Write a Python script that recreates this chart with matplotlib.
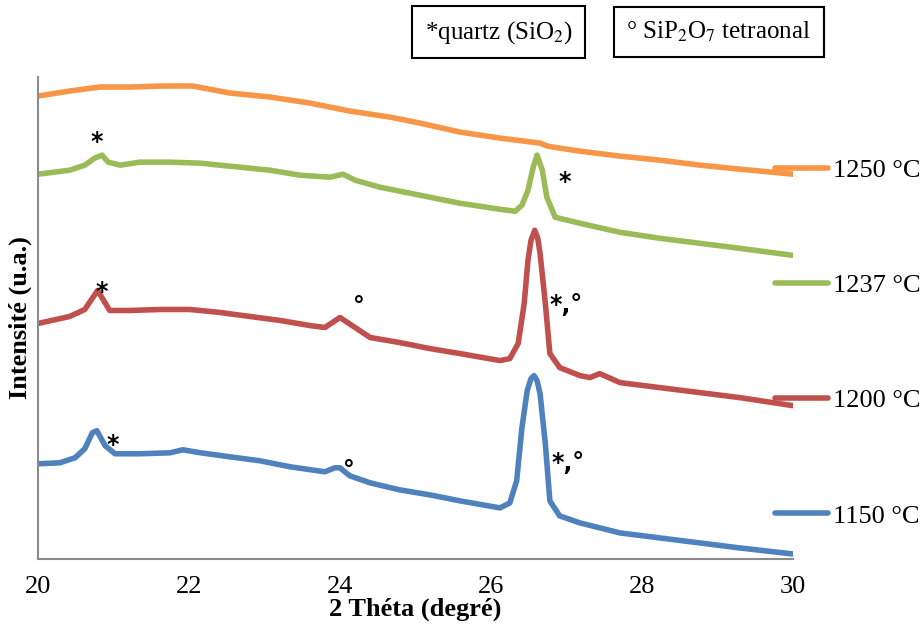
import matplotlib
matplotlib.use("Agg")
import matplotlib.pyplot as plt
from matplotlib.lines import Line2D

plt.rcParams['font.family'] = ['Liberation Serif', 'DejaVu Serif']
plt.rcParams['mathtext.fontset'] = 'stix'

# 2 theta (degree) and intensity (a.u., curves already stacked)
x_1250 = [20.00, 20.42, 20.82, 21.22, 21.66, 22.05, 22.54, 23.07, 23.60, 24.13, 24.66, 25.06,
          25.59, 26.12, 26.65, 26.75, 26.91, 27.18, 27.71, 28.24, 28.77, 29.30, 30.00]
i_1250 = [462, 467, 471, 471, 472, 472, 465, 461, 455, 447, 441, 435,
          426, 420, 415, 412, 410, 407, 402, 398, 393, 389, 384]

x_1237 = [20.00, 20.42, 20.62, 20.75, 20.85, 20.93, 21.09, 21.35, 21.75, 22.15, 22.54, 23.07,
          23.47, 23.87, 24.04, 24.20, 24.53, 25.06, 25.59, 26.12, 26.32, 26.41, 26.49, 26.56,
          26.61, 26.68, 26.74, 26.85, 27.18, 27.71, 28.24, 28.77, 29.30, 30.00]
i_1237 = [384, 388, 393, 400, 403, 396, 393, 396, 396, 395, 392, 388,
          383, 381, 384, 378, 371, 363, 355, 349, 347, 353, 368, 391,
          403, 388, 361, 341, 335, 326, 320, 315, 310, 303]

x_1200 = [20.00, 20.42, 20.62, 20.79, 20.95, 21.22, 21.62, 22.01, 22.41, 22.81, 23.21, 23.60,
          23.80, 24.00, 24.20, 24.40, 24.79, 25.19, 25.59, 26.12, 26.25, 26.36, 26.44, 26.49,
          26.53, 26.58, 26.62, 26.65, 26.72, 26.78, 26.91, 27.18, 27.31, 27.44, 27.71, 28.24,
          28.77, 29.30, 30.00]
i_1200 = [235, 242, 249, 268, 248, 248, 249, 249, 246, 242, 238, 233,
          231, 241, 231, 221, 216, 210, 205, 198, 200, 215, 255, 298,
          318, 328, 320, 305, 255, 205, 191, 183, 181, 185, 176, 171,
          166, 161, 153]

x_1150 = [20.00, 20.29, 20.49, 20.62, 20.72, 20.78, 20.89, 21.02, 21.35, 21.75, 21.92, 22.15,
          22.54, 22.94, 23.34, 23.80, 23.93, 24.00, 24.13, 24.40, 24.79, 25.19, 25.59, 26.12,
          26.25, 26.34, 26.41, 26.48, 26.53, 26.57, 26.61, 26.65, 26.72, 26.78, 26.91, 27.18,
          27.71, 28.24, 28.77, 29.30, 30.00]
i_1150 = [95, 96, 101, 110, 126, 128, 113, 105, 105, 106, 109, 106,
          102, 98, 92, 87, 91, 91, 83, 76, 69, 64, 58, 51,
          56, 78, 131, 168, 180, 183, 178, 165, 115, 58, 43, 36,
          26, 21, 16, 11, 5]

labels = ['1250 °C', '1237 °C', '1200 °C', '1150 °C']
colors = ['#F79646', '#9BBB59', '#C0504D', '#4F81BD']

# peak markers: text, 2theta, intensity
marks = ['*', '*', '*', '°', '*,°', '*', '°', '*,°']
mark_x = [20.78, 26.98, 20.84, 24.25, 26.99, 20.99, 24.12, 27.02]
mark_i = [416, 376, 266, 251, 253, 114, 88, 96]

fig = plt.figure(figsize=(9.24, 6.3), dpi=100)
ax = fig.add_axes([0.0411, 0.1127, 0.8171, 0.7651])

series = [(x_1250, i_1250), (x_1237, i_1237), (x_1200, i_1200), (x_1150, i_1150)]
for (xs, ys), c, lab in zip(series, colors, labels):
    ax.plot(xs, ys, color=c, lw=4.0, solid_capstyle='round', solid_joinstyle='round', label=lab)

for t, xx, yy in zip(marks, mark_x, mark_i):
    ax.text(xx, yy, t, ha='center', va='center', fontsize=17, fontweight='bold',
            family=['DejaVu Sans'], color='black')

ax.set_xlim(20, 30)
ax.set_ylim(0, 481)
ax.set_xticks([20, 22, 24, 26, 28, 30])
ax.set_yticks([])
ax.tick_params(axis='x', length=0, labelsize=19, pad=12)
for s in ['top', 'right']:
    ax.spines[s].set_visible(False)
for s in ['left', 'bottom']:
    ax.spines[s].set_color('#8c8c8c')
    ax.spines[s].set_linewidth(1.5)

ax.set_xlabel('2 Théta (degré)', fontsize=19, fontweight='bold', labelpad=0)
ax.set_ylabel('Intensité (u.a.)', fontsize=19, fontweight='bold', labelpad=4)

leg_handles = [Line2D([], [], color=c, lw=4.0, solid_capstyle='round') for c in colors]
fig.legend(leg_handles, labels, loc='center left', bbox_to_anchor=(0.8387, 0.4555),
           frameon=False, fontsize=19, handlelength=2.0, handletextpad=0.2,
           labelspacing=3.48, borderpad=0, borderaxespad=0)

box = dict(boxstyle='square,pad=0.5', facecolor='white', edgecolor='black', lw=1.5)
fig.text(0.540, 0.949, '*quartz (SiO$_2$)', ha='center', va='center', fontsize=18, bbox=box)
fig.text(0.778, 0.949, '° SiP$_2$O$_7$ tetraonal', ha='center', va='center', fontsize=18, bbox=box)

fig.savefig('out.png', dpi=100)
